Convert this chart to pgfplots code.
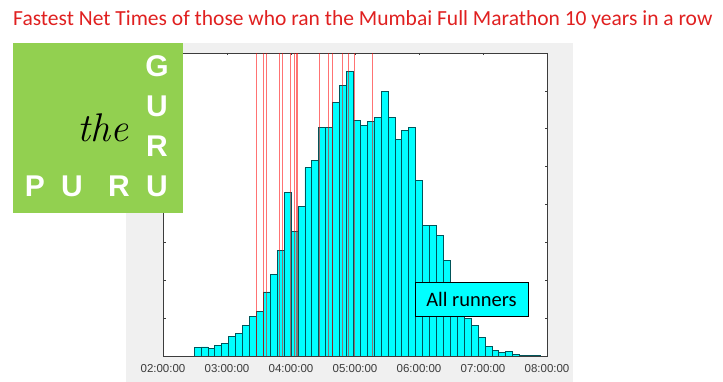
\documentclass[border=0pt]{standalone}
\usepackage{pgfplots}
\pgfplotsset{compat=1.18}
\usepackage{fontspec}
\setmainfont{Liberation Sans}
\newfontfamily\carlito{Carlito}
\newfontfamily\lmfont{Latin Modern Roman}
\definecolor{logogreen}{RGB}{146,208,80}
\definecolor{panelgray}{RGB}{240,240,240}
\definecolor{barcyan}{RGB}{0,255,255}
\definecolor{baredge}{RGB}{0,85,90}
\definecolor{titlered}{RGB}{224,32,32}
\definecolor{tickgray}{RGB}{60,60,60}
\pgfplotstableread{
x y
2.4844 11.4
2.5926 11.9
2.7008 9.7
2.8091 14.1
2.9173 16.3
3.0255 26.0
3.1337 29.9
3.2419 40.5
3.3502 52.4
3.4584 58.5
3.5666 84.5
3.6748 108.2
3.7830 139.5
3.8913 216.0
3.9995 164.1
4.1077 197.1
4.2159 248.6
4.3241 257.8
4.4324 301.4
4.5406 301.4
4.6488 334.4
4.7570 357.7
4.8652 376.2
4.9735 311.5
5.0817 304.9
5.1899 309.8
5.2981 315.5
5.4063 349.8
5.5146 314.6
5.6228 286.4
5.7310 298.3
5.8392 301.8
5.9474 231.9
6.0557 172.0
6.1639 172.9
6.2721 159.7
6.3803 125.8
6.4885 92.0
6.5968 68.0
6.7050 49.8
6.8132 40.9
6.9214 24.2
7.0296 12.3
7.1379 7.0
7.2461 4.4
7.3543 6.2
7.4625 2.6
7.5707 0.7
7.6790 0.7
7.7872 0.9
7.8954 0.9
}\histdata
\begin{document}
\begin{tikzpicture}[x=1pt,y=1pt]
\path[use as bounding box, fill=white] (0,0) rectangle (723,382);
\fill[panelgray] (126,0) rectangle (573,339);
\begin{axis}[
  at={(163pt,26pt)}, anchor=south west,
  scale only axis, width=384pt, height=303pt,
  xmin=2, xmax=8, ymin=0, ymax=400,
  xtick={2,3,4,5,6,7,8},
  xticklabels={{\textnormal{02:00:00}},{\textnormal{03:00:00}},{\textnormal{04:00:00}},{\textnormal{05:00:00}},{\textnormal{06:00:00}},{\textnormal{07:00:00}},{\textnormal{08:00:00}}},
  ytick={50,100,150,200,250,300,350},
  yticklabels={},
  tick align=inside,
  major tick length=2.5pt,
  axis line style={draw=tickgray, line width=0.6pt},
  every tick/.style={draw=tickgray, line width=0.6pt},
  axis background/.style={fill=white},
  tick label style={font=\fontsize{11.5}{13}\selectfont, text=tickgray},
  xticklabel style={yshift=-5pt},
  clip=true,
]
\addplot[ybar interval, fill=barcyan, draw=baredge, line width=0.6pt] table[x=x, y=y] {\histdata};
\addplot[ycomb, draw=red, draw opacity=0.55, line width=0.8pt, mark=none] coordinates {
(3.464,400) (3.567,400) (3.609,400) (3.817,400) (3.870,400) (3.984,400)
(4.052,400) (4.078,400) (4.098,400) (4.442,400) (4.578,400) (4.641,400)
(4.808,400) (4.902,400) (4.989,400) (5.266,400)};
\end{axis}
% logo
\fill[logogreen] (13,169) rectangle (183,339);
\begin{scope}[every node/.style={text=white, font=\bfseries\fontsize{30}{32}\selectfont, inner sep=0pt, anchor=base}]
\node at (157,305) {G};
\node at (157,265) {U};
\node at (157,225) {R};
\node at (157,185) {U};
\node at (35,185) {P};
\node at (72,185) {U};
\node at (119,185) {R};
\end{scope}
\node[anchor=base, inner sep=0pt, font=\lmfont\itshape\fontsize{40}{44}\selectfont] at (103,240) {the};
% title
\node[anchor=base west, inner sep=0pt, text=titlered, font=\carlito\fontsize{21.5}{24}\selectfont] at (13,356) {Fastest Net Times of those who ran the Mumbai Full Marathon 10 years in a row};
% label box
\node[draw=black, line width=0.8pt, fill=barcyan, minimum width=113pt, minimum height=34.5pt, inner sep=0pt, font=\carlito\fontsize{20.5}{24}\selectfont] at (471.5,82.5) {All runners};
\end{tikzpicture}
\end{document}
